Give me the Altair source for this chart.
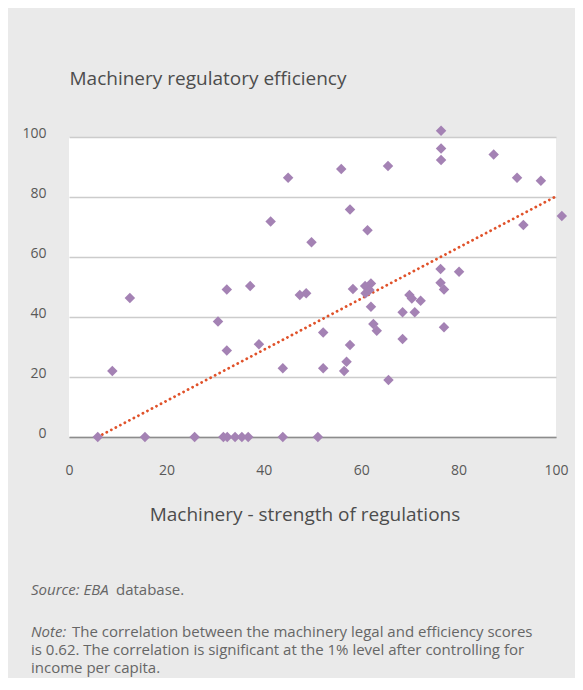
import altair as alt
import pandas as pd

# ---- data ----
strength = [5.9, 8.9, 12.5, 15.6, 25.8, 30.6, 32.4, 32.4, 31.7, 32.5, 34.1, 35.5, 36.8,
            37.2, 39.0, 41.4, 43.9, 43.9, 45.0, 47.4, 48.7, 49.8, 51.1, 52.2, 52.2,
            55.9, 56.5, 57.0, 57.7, 57.7, 58.3, 60.8, 62.0, 60.9, 61.7, 61.3, 62.0,
            62.5, 63.2, 65.5, 65.6, 68.5, 68.5, 69.9, 70.4, 71.0, 72.2, 76.4, 76.4,
            76.4, 76.3, 76.3, 77.0, 77.0, 80.1, 87.2, 92.0, 93.3, 96.9, 101.2]
efficiency = [0, 22.0, 46.3, 0, 0, 38.5, 28.8, 49.2, 0, 0, 0, 0, 0,
              50.3, 30.9, 71.8, 22.9, 0, 86.4, 47.3, 47.9, 64.9, 0, 34.8, 22.9,
              89.3, 22.0, 25.1, 75.8, 30.7, 49.3, 50.3, 51.2, 47.9, 49.0, 68.9, 43.4,
              37.7, 35.4, 90.3, 19.0, 32.7, 41.6, 47.3, 46.2, 41.6, 45.4, 102.1, 96.2,
              92.3, 56.0, 51.4, 49.2, 36.6, 55.1, 94.2, 86.4, 70.7, 85.4, 73.7]
trend_x = [5.9, 100]
trend_y = [0, 80.2]
x_ticks = [0, 20, 40, 60, 80, 100]
y_ticks = [0, 20, 40, 60, 80, 100]

y_title = "Machinery regulatory efficiency"
x_title = "Machinery - strength of regulations"
source_italic = "Source: EBA"
source_plain = "database."
note_italic = "Note:"
note_lines = [
    "The correlation between the machinery legal and efficiency scores",
    "is 0.62. The correlation is significant at the 1% level after controlling for",
    "income per capita.",
]

FONT = "Open Sans"
TXT = "#595959"

pts = pd.DataFrame({"x": strength, "y": efficiency})
trend = pd.DataFrame({"x": trend_x, "y": trend_y})

xscale = alt.Scale(domain=[0, 100], nice=False, zero=False)
yscale = alt.Scale(domain=[0, 100], nice=False)

x_axis = alt.Axis(
    values=x_ticks, grid=False, ticks=False, tickSize=0, labelFlush=False,
    domain=True, domainColor="#8c8c8c", domainWidth=1.5,
    labelFont=FONT, labelFontSize=14, labelColor=TXT,
    labelPadding=33, labelBaseline="middle",
    title=x_title, titleFont=FONT, titleFontSize=19, titleFontWeight="normal",
    titleColor="#4d4d4d", titleX=235.5, titleY=77,
    titleBaseline="middle", titleAlign="center",
)
y_axis = alt.Axis(
    values=y_ticks, grid=True, gridColor="#cccccc", gridWidth=1.5,
    ticks=False, tickSize=0, domain=False, labelFlush=False,
    labelFont=FONT, labelFontSize=14, labelColor=TXT,
    labelPadding=23, labelAlign="right", labelBaseline="alphabetic",
    title=y_title, titleFont=FONT, titleFontSize=19, titleFontWeight="normal",
    titleColor="#4d4d4d", titleAngle=0, titleX=0, titleY=-59,
    titleAlign="left", titleBaseline="middle",
)

points = alt.Chart(pts).mark_point(
    shape="diamond", filled=True, size=110, color="#a482b4", opacity=1
).encode(
    x=alt.X("x:Q", scale=xscale, axis=x_axis),
    y=alt.Y("y:Q", scale=yscale, axis=y_axis),
)

line = alt.Chart(trend).mark_line(
    color="#e0522a", strokeDash=[0.1, 5], strokeWidth=2.8, strokeCap="round"
).encode(
    x=alt.X("x:Q", scale=xscale),
    y=alt.Y("y:Q", scale=yscale),
)

one = pd.DataFrame({"k": [0]})


def txt(text, x, y, italic=False):
    return alt.Chart(one).mark_text(
        font=FONT, fontSize=15, color="#666666", align="left", baseline="middle",
        fontStyle="italic" if italic else "normal",
    ).encode(x=alt.value(x), y=alt.value(y), text=alt.value(text))


notes = [
    txt(source_italic, -38, 453, True),
    txt(source_plain, 47, 453),
    txt(note_italic, -38, 495, True),
    txt(note_lines[0], 3, 495),
    txt(note_lines[1], -38, 513),
    txt(note_lines[2], -38, 531),
]

chart = alt.layer(line, points, *notes).properties(
    width=487, height=300,
    autosize=alt.AutoSizeParams(type="none"),
    padding={"left": 61, "top": 129, "right": 19, "bottom": 241},
    background="#eaeaea",
).configure_view(fill="white", strokeWidth=0)

chart.save("out.html", embed_options={"renderer": "svg", "actions": False})
